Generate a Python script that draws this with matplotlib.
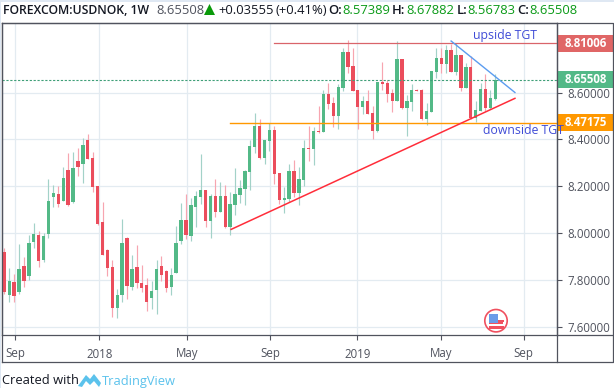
import numpy as np
import matplotlib
matplotlib.use("Agg")
import matplotlib.pyplot as plt
from matplotlib.patches import Rectangle, Circle, Polygon, Wedge

plt.rcParams['font.family'] = ['Open Sans', 'DejaVu Sans']

opens = [7.918,7.734,7.790,7.747,7.858,7.815,7.961,7.991,7.884,7.995,8.153,8.166,8.136,8.268,8.132,8.307,8.294,8.397,8.320,8.200,
         8.046,7.927,7.854,7.679,7.734,7.978,7.768,7.854,7.785,7.777,7.721,7.756,7.858,7.837,7.768,7.828,7.965,8.055,7.986,8.110,
         8.153,8.183,8.050,8.157,8.089,8.157,8.025,8.119,8.162,8.187,8.260,8.367,8.456,8.320,8.392,8.439,8.256,8.140,8.145,8.264,
         8.170,8.226,8.363,8.358,8.435,8.431,8.593,8.555,8.499,8.619,8.773,8.713,8.610,8.538,8.564,8.512,8.435,8.645,8.640,8.598,
         8.564,8.743,8.534,8.559,8.610,8.610,8.487,8.516,8.687,8.747,8.721,8.782,8.687,8.760,8.619,8.709,8.491,8.521,8.615,8.534,8.57389]
highs = [7.935,7.850,7.824,7.952,7.897,7.991,8.042,8.008,7.999,8.230,8.204,8.200,8.281,8.341,8.345,8.363,8.405,8.422,8.345,8.200,
         8.132,7.931,7.884,7.760,8.059,7.982,7.905,7.948,7.862,7.807,7.794,7.884,7.901,7.841,7.850,8.029,8.127,8.166,8.149,8.179,
         8.337,8.183,8.166,8.230,8.217,8.204,8.174,8.277,8.226,8.268,8.397,8.512,8.487,8.397,8.469,8.456,8.256,8.196,8.294,8.311,
         8.281,8.397,8.456,8.452,8.542,8.610,8.640,8.580,8.636,8.790,8.824,8.790,8.610,8.585,8.610,8.542,8.645,8.730,8.653,8.615,
         8.820,8.743,8.589,8.636,8.615,8.615,8.555,8.692,8.790,8.790,8.803,8.807,8.811,8.760,8.726,8.756,8.564,8.640,8.679,8.610,8.67882]
lows = [7.738,7.704,7.704,7.738,7.768,7.798,7.935,7.854,7.875,7.978,8.110,8.110,8.136,8.115,8.127,8.243,8.213,8.315,8.174,8.033,
        7.905,7.815,7.640,7.636,7.704,7.717,7.756,7.764,7.747,7.666,7.674,7.653,7.794,7.747,7.734,7.828,7.952,7.974,7.965,8.025,
        8.123,8.025,7.978,8.068,8.089,8.021,7.991,8.076,8.127,8.119,8.183,8.341,8.315,8.294,8.350,8.209,8.123,8.085,8.132,8.153,
        8.119,8.200,8.307,8.290,8.427,8.431,8.529,8.452,8.444,8.606,8.683,8.606,8.444,8.508,8.508,8.401,8.431,8.610,8.559,8.517,
        8.564,8.529,8.414,8.521,8.606,8.482,8.461,8.516,8.662,8.683,8.683,8.687,8.675,8.606,8.619,8.487,8.474,8.521,8.521,8.529,8.56783]
closes = [7.747,7.794,7.730,7.845,7.794,7.956,7.995,7.880,7.986,8.136,8.170,8.123,8.234,8.119,8.277,8.281,8.375,8.315,8.196,8.038,
          7.905,7.850,7.679,7.734,7.956,7.773,7.845,7.785,7.764,7.704,7.751,7.845,7.820,7.764,7.820,7.956,8.055,7.991,8.119,8.157,
          8.183,8.050,8.157,8.089,8.157,8.025,8.123,8.166,8.191,8.264,8.371,8.456,8.320,8.397,8.439,8.251,8.140,8.149,8.264,8.170,
          8.230,8.363,8.358,8.435,8.431,8.593,8.551,8.499,8.623,8.773,8.709,8.606,8.538,8.564,8.508,8.435,8.645,8.636,8.593,8.564,
          8.743,8.534,8.564,8.610,8.606,8.487,8.521,8.692,8.747,8.721,8.782,8.687,8.760,8.619,8.709,8.491,8.525,8.615,8.534,8.576,8.65508]

y_ticks = [7.6, 7.8, 8.0, 8.2, 8.4, 8.6]
x_tick_pos = [2.24, 19.35, 37.3, 54.2, 71.9, 88.9, 105.8]
x_tick_labels = ['Sep', '2018', 'May', 'Sep', '2019', 'May', 'Sep']

upside_level = 8.81006
downside_level = 8.47175
last_price = 8.65508
# trend lines: (week index, price)
support_x, support_y = [46.2, 104.0], [8.015, 8.575]
resist_x, resist_y = [91.0, 104.0], [8.820, 8.600]
upside_start, downside_start = 55.0, 46.0

GREEN, RED = '#53b987', '#eb4d5c'
GREEN_W, RED_W = '#a3d2c8', '#f7a5b0'
AXC, TXT = '#50535e', '#50535e'
GRID = '#e3ebf1'
W, H = 614, 388

fig = plt.figure(figsize=(W/100, H/100), dpi=100, facecolor='white')
L, R, T, B = 2.0, 557.3, 23.0, 335.0
ax = fig.add_axes([L/W, 1-B/H, (R-L)/W, (B-T)/H])
ax.set_xlim((L-4.3)/4.91, (R-4.3)/4.91)
ax.set_ylim(8.6-(B-92.5)*0.2/46.8, 8.6+(92.5-T)*0.2/46.8)

ax.set_xticks(x_tick_pos, x_tick_labels)
ax.set_yticks(y_ticks)
ax.yaxis.tick_right()
ax.yaxis.set_major_formatter(matplotlib.ticker.FormatStrFormatter('%.5f'))
ax.tick_params(axis='x', length=3.5, width=0.8, color=AXC, labelcolor=TXT, labelsize=8.3, pad=5.5)
ax.tick_params(axis='y', length=3.5, width=0.8, color=AXC, labelcolor=TXT, labelsize=8.3, pad=3.5)
ax.grid(True, color=GRID, lw=0.9)
ax.set_axisbelow(True)
for s in ax.spines.values():
    s.set_color(AXC); s.set_linewidth(0.9)

idx = np.arange(len(opens))
o, h, l, c = map(np.array, (opens, highs, lows, closes))
up = c >= o
ax.vlines(idx[up], l[up], h[up], color=GREEN_W, lw=0.85, zorder=2)
ax.vlines(idx[~up], l[~up], h[~up], color=RED_W, lw=0.85, zorder=2)
body = np.maximum(np.abs(c-o), 0.006)
ax.bar(idx[up], body[up], bottom=np.minimum(o, c)[up], width=0.68, color=GREEN, lw=0, zorder=3)
ax.bar(idx[~up], body[~up], bottom=np.minimum(o, c)[~up], width=0.68, color=RED, lw=0, zorder=3)

xmax = ax.get_xlim()[1]
ax.plot([ax.get_xlim()[0], xmax], [last_price]*2, color='#3f9f78', lw=0.8, ls=(0, (2, 1.5)), zorder=4)
ax.plot([upside_start, xmax], [upside_level]*2, color='#d9646a', lw=0.9, zorder=4)
ax.plot([downside_start, xmax], [downside_level]*2, color='#ff9800', lw=1.0, zorder=4)
ax.plot(support_x, support_y, color='#ff2d3a', lw=1.1, zorder=5)
ax.plot(resist_x, resist_y, color='#5b9cf0', lw=1.0, zorder=5)

# overlay in picture pixels for the platform furniture
ov = fig.add_axes([0, 0, 1, 1], facecolor='none')
ov.set_xlim(0, W); ov.set_ylim(H, 0); ov.axis('off')

ov.add_patch(Rectangle((0, 0), W, 2, color='#dfe8f3', lw=0))
ov.add_patch(Rectangle((0, 0), 1.3, H, color='#dfe8f3', lw=0))
ov.plot([L, L], [T, 362], color=AXC, lw=0.9)
ov.plot([L, 613.3, 613.3, L], [T, T, 362, 362], color=AXC, lw=0.9)
ov.plot([R, R], [T, 362], color=AXC, lw=0.9)
ov.plot([R, 613.3], [B, B], color=AXC, lw=0.9)

ov.text(473, 35, 'upside TGT', color='#3f4bd6', fontsize=8.8, fontweight='medium', va='center', ha='left')
ov.text(483, 130, 'downside TGT', color='#3f4bd6', fontsize=8.8, fontweight='medium', va='center', ha='left')

def price_y(p):
    return 92.5 + (8.6-p)*46.8/0.2

for level, col in [(upside_level, '#e06666'), (last_price, '#53b987'), (downside_level, '#ff9800')]:
    yc = price_y(level)
    ov.add_patch(Rectangle((R, yc-8.5), 613-R, 17, color=col, lw=0))
    ov.text(585.5, yc, f'{level:.5f}', color='white', fontsize=8.3, fontweight='bold', ha='center', va='center')

hdr_y = 10
ov.text(2.7, hdr_y, 'FOREXCOM:USDNOK, 1W', color='#131722', fontsize=8.8, fontweight='semibold', va='center')
G = '#0a9a17'
ov.text(156, hdr_y, '8.65508', color='#50535e', fontsize=9.4, va='center')
ov.add_patch(Polygon([[204, 15], [215, 15], [209.5, 4]], color='#0a9a0a', lw=0))
ov.text(218, hdr_y, '+0.03555', color='#131722', fontsize=9.4, va='center')
ov.text(275, hdr_y, '(+0.41%)', color='#131722', fontsize=9.4, va='center')
for xl, lab, xv, val in [(328, 'O:', 342, '8.57389'), (392, 'H:', 406, '8.67882'),
                         (457, 'L:', 467, '8.56783'), (517, 'C:', 529, '8.65508')]:
    ov.text(xl, hdr_y, lab, color='#131722', fontsize=9.4, fontweight='semibold', va='center')
    ov.text(xv, hdr_y, val, color=G, fontsize=9.4, va='center')

# flag event marker
fx, fy = 496, 320.7
ov.add_patch(Circle((fx, fy), 11.2, fc='white', ec='#f0505f', lw=1.2))
ov.add_patch(Wedge((fx, fy), 8.5, 0, 180, fc='white', lw=0))
ov.add_patch(Rectangle((fx-7.5, fy+5.5), 15, 2.5, color='#f0505f', lw=0))
ov.add_patch(Rectangle((fx-7, fy+1.5), 14, 1.5, color='#f0505f', lw=0))
ov.add_patch(Rectangle((fx+1, fy-1), 7, 1.8, color='#f0505f', lw=0))
ov.add_patch(Rectangle((fx-7.5, fy-7), 9.5, 9.5, color='#6a9be8', lw=0))

# footer
ov.text(2, 381, 'Created with', color='#131722', fontsize=9.3, va='center')
ov.add_patch(Polygon([[78, 386], [86, 375], [90, 379], [94, 374], [101, 383], [99, 387], [94, 381],
                      [90, 385], [86, 381], [82, 387]], color='#5bc2ec', lw=0))
ov.text(102, 381, 'TradingView', color='#5bc2ec', fontsize=9.3, va='center')

fig.savefig('out.png', dpi=100)
